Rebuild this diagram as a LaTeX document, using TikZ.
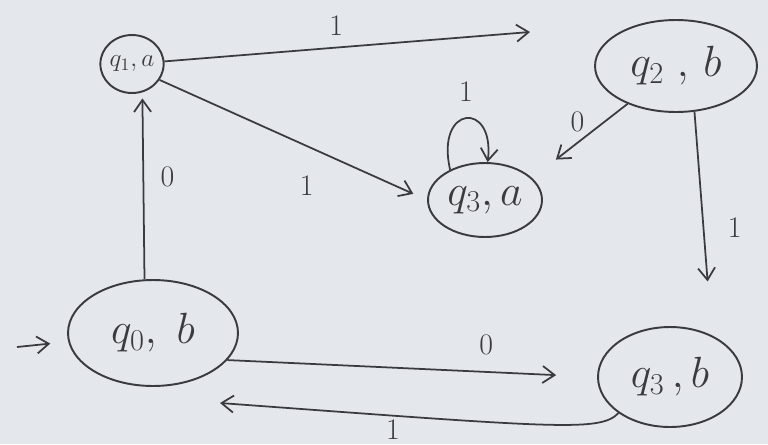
\documentclass[tikz,border=0pt]{standalone}
\usepackage{tikz}
\usetikzlibrary{arrows.meta, shapes.geometric}
\definecolor{inkcol}{HTML}{3A3B3E}
\definecolor{papercol}{HTML}{E4E7EB}

\begin{document}
\begin{tikzpicture}[x=0.02cm, y=-0.02cm, >={Straight Barb[length=2.4mm, width=3.4mm]},
  state/.style={ellipse, draw=inkcol, line width=1.1pt, inner sep=0pt, text=inkcol, font=\fontsize{24}{26}\selectfont},
  edge/.style={->, draw=inkcol, line width=1pt},
  lbl/.style={text=inkcol, font=\fontsize{17}{19}\selectfont}]
\fill[papercol] (0,0) rectangle (768,444);
\useasboundingbox (0,0) rectangle (768,444);

% states
\node[state, minimum width=1.2cm, minimum height=1.16cm, font=\Large] (q1a) at (132,64) {$q_1,a$};
\node[state, minimum width=3.24cm, minimum height=1.84cm] (q2b) at (676,66) {$q_2\ ,\,b$};
\node[state, minimum width=2.28cm, minimum height=1.48cm] (q3a) at (485,200) {$q_3,a$};
\node[state, minimum width=3.4cm, minimum height=2.12cm] (q0b) at (153,333) {$q_0,\ b$};
\node[state, minimum width=2.88cm, minimum height=2.0cm] (q3b) at (670,377) {$q_3\,,b$};

% free ends
\coordinate (start) at (17,347);
\coordinate (t12) at (530,32);
\coordinate (t30) at (220,403);

% transitions
\draw[edge, shorten >=0.36cm] (start) -- (q0b);
\draw[edge] (q1a) -- node[lbl, pos=0.47, above=3pt] {1} (t12);
\draw[edge, shorten >=0.3cm] (q1a.-30) -- node[lbl, pos=0.55, below=13pt] {1} (q3a.west);
\draw[edge] (q3a.139) .. controls (435,105) and (495,100) .. node[lbl, above=6pt] {1} (q3a.86);
\draw[edge, shorten >=0.6cm] (q2b.218) -- node[lbl, pos=0.42, above left=-2pt] {0} (q3a.25);
\draw[edge, shorten >=1.08cm] (q2b.-68) -- node[lbl, pos=0.52, right=10pt] {1} (q3b.45);
\draw[edge, shorten >=0.12cm] (q0b.99) -- node[lbl, pos=0.55, right=6pt] {0} (q1a.-70);
\draw[edge, shorten >=0.82cm] (q0b.-20) -- node[lbl, pos=0.7, above=6pt] {0} (q3b.west);
\draw[edge] (q3b.215) .. controls (600,432) and (560,428) .. (t30);
\node[lbl, anchor=base, inner sep=0pt] (l30) at (393,439) {1};
\end{tikzpicture}
\end{document}
